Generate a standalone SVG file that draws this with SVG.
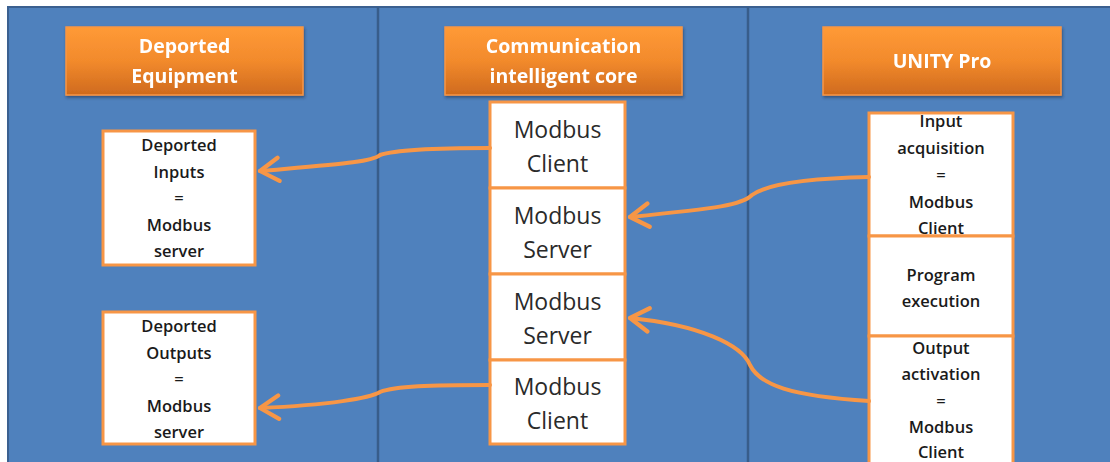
<svg xmlns="http://www.w3.org/2000/svg" width="1110" height="462" viewBox="0 0 1110 462">
<defs>
<linearGradient id="og" x1="0" y1="0" x2="0" y2="1">
<stop offset="0" stop-color="#FF9A36"/>
<stop offset="0.5" stop-color="#F28A2C"/>
<stop offset="1" stop-color="#CF6A1E"/>
</linearGradient>
<marker id="chev" viewBox="0 0 12 12" refX="10" refY="6" markerWidth="7" markerHeight="7" markerUnits="strokeWidth" orient="auto">
<path d="M2,1 L10,6 L2,11" fill="none" stroke="#F79646" stroke-width="1.8" stroke-linecap="round" stroke-linejoin="round"/>
</marker>
<filter id="sh" x="-10%" y="-10%" width="130%" height="140%">
<feDropShadow dx="1" dy="2" stdDeviation="1.5" flood-color="#1F3552" flood-opacity="0.6"/>
</filter>
</defs>
<style>
.hdr{fill:url(#og);stroke:#F79646;stroke-width:1.5}
.ht{font-family:"Open Sans","Liberation Sans",sans-serif;font-weight:bold;font-size:19.5px;fill:#fff;text-anchor:middle}
.box{fill:#fff;stroke:#F79646;stroke-width:3}
.bt{font-family:"Open Sans","Liberation Sans",sans-serif;font-size:16.5px;font-weight:600;fill:#1a1a1a;text-anchor:middle}
.mt{font-family:"Open Sans","Liberation Sans",sans-serif;font-size:23px;fill:#2a2a2a;text-anchor:middle}
.conn{fill:none;stroke:#F79646;stroke-width:4;stroke-linecap:round}
</style>
<rect width="1110" height="462" fill="#fff"/>
<rect x="8" y="7" width="1104" height="458" fill="#4F81BD" stroke="#3B6090" stroke-width="2"/>
<line x1="378" y1="7" x2="378" y2="462" stroke="#385D8A" stroke-width="2.5"/>
<line x1="748" y1="7" x2="748" y2="462" stroke="#385D8A" stroke-width="2.5"/>

<g id="hdr-deported" filter="url(#sh)">
<rect class="hdr" x="66" y="27" width="237" height="68"/>
<text class="ht" x="184.5" y="53">Deported</text>
<text class="ht" x="184.5" y="83">Equipment</text>
</g>
<g id="hdr-core" filter="url(#sh)">
<rect class="hdr" x="445" y="27" width="237" height="68"/>
<text class="ht" x="563.5" y="53">Communication</text>
<text class="ht" x="563.5" y="83">intelligent core</text>
</g>
<g id="hdr-unity" filter="url(#sh)">
<rect class="hdr" x="823" y="27" width="238" height="68"/>
<text class="ht" x="942" y="68">UNITY Pro</text>
</g>

<g id="deported-inputs">
<rect class="box" x="103" y="131" width="152" height="134"/>
<text class="bt" x="179" y="151">Deported</text>
<text class="bt" x="179" y="178">Inputs</text>
<text class="bt" x="179" y="204">=</text>
<text class="bt" x="179" y="231">Modbus</text>
<text class="bt" x="179" y="257">server</text>
</g>
<g id="deported-outputs">
<rect class="box" x="103" y="312" width="152" height="132"/>
<text class="bt" x="179" y="332">Deported</text>
<text class="bt" x="179" y="359">Outputs</text>
<text class="bt" x="179" y="385">=</text>
<text class="bt" x="179" y="412">Modbus</text>
<text class="bt" x="179" y="438">server</text>
</g>

<g id="core-client-1">
<rect class="box" x="490" y="102" width="135" height="86"/>
<text class="mt" x="557.5" y="138">Modbus</text>
<text class="mt" x="557.5" y="172">Client</text>
</g>
<g id="core-server-1">
<rect class="box" x="490" y="188" width="135" height="86"/>
<text class="mt" x="557.5" y="224">Modbus</text>
<text class="mt" x="557.5" y="258">Server</text>
</g>
<g id="core-server-2">
<rect class="box" x="490" y="274" width="135" height="86"/>
<text class="mt" x="557.5" y="310">Modbus</text>
<text class="mt" x="557.5" y="344">Server</text>
</g>
<g id="core-client-2">
<rect class="box" x="490" y="360" width="135" height="84"/>
<text class="mt" x="557.5" y="395">Modbus</text>
<text class="mt" x="557.5" y="429">Client</text>
</g>

<g id="input-acquisition">
<rect class="box" x="869" y="113" width="144" height="123"/>
<text class="bt" x="941" y="127">Input</text>
<text class="bt" x="941" y="154">acquisition</text>
<text class="bt" x="941" y="181">=</text>
<text class="bt" x="941" y="208">Modbus</text>
<text class="bt" x="941" y="234">Client</text>
</g>
<g id="program-execution">
<rect class="box" x="869" y="236" width="144" height="100"/>
<text class="bt" x="941" y="281">Program</text>
<text class="bt" x="941" y="307">execution</text>
</g>
<g id="output-activation">
<rect class="box" x="869" y="336" width="144" height="130"/>
<text class="bt" x="941" y="354">Output</text>
<text class="bt" x="941" y="380">activation</text>
<text class="bt" x="941" y="407">=</text>
<text class="bt" x="941" y="433">Modbus</text>
<text class="bt" x="941" y="458">Client</text>
</g>

<g id="connectors">
<path class="conn" marker-end="url(#chev)" d="M490,148 C440,148 395,150 380,155 C372,162 340,164 260,171"/>
<path class="conn" marker-end="url(#chev)" d="M869,177 C820,178 770,182 752,195 C742,205 720,208 630,217"/>
<path class="conn" marker-end="url(#chev)" d="M869,401 C790,396 760,385 750,365 C742,345 700,325 630,318"/>
<path class="conn" marker-end="url(#chev)" d="M490,385 C430,385 395,386 380,392 C370,398 330,405 260,408"/>
</g>
</svg>
